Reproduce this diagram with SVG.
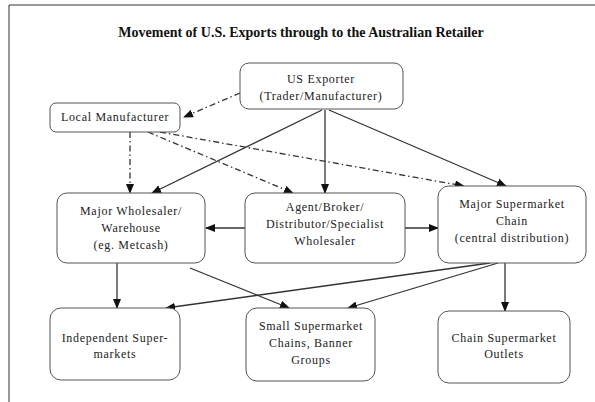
<svg xmlns="http://www.w3.org/2000/svg" width="595" height="402" viewBox="0 0 595 402">
<style>
.box{fill:#fff;stroke:#555;stroke-width:1}
.t{font-family:"Liberation Serif",serif;font-size:12px;letter-spacing:0.7px;fill:#222;text-anchor:middle}
.title{font-family:"Liberation Serif",serif;font-size:14px;font-weight:bold;fill:#111;text-anchor:middle}
.c{stroke:#333;stroke-width:1.3;fill:none;marker-end:url(#ah)}
.d{stroke-dasharray:6 3 1.5 3}
</style>
<defs>
<marker id="ah" markerWidth="10" markerHeight="8" refX="9" refY="4" orient="auto" markerUnits="userSpaceOnUse">
<path d="M0,0 L10,4 L0,8 Z" fill="#111"/>
</marker>
</defs>
<rect x="1" y="1" width="593" height="400" fill="#fff"/>
<path d="M9,402 V5 H595" fill="none" stroke="#333" stroke-width="1"/>
<text class="title" x="301" y="37">Movement of U.S. Exports through to the Australian Retailer</text>
<g id="connectors">
<line class="c d" x1="240" y1="93" x2="184" y2="117"/>
<line class="c" x1="322" y1="110" x2="152" y2="193"/>
<line class="c" x1="325" y1="110" x2="325" y2="193"/>
<line class="c" x1="329" y1="110" x2="506" y2="186"/>
<line class="c d" x1="130" y1="132" x2="130" y2="193"/>
<line class="c d" x1="148" y1="132" x2="293" y2="193"/>
<line class="c d" x1="160" y1="132" x2="464" y2="186"/>
<line class="c" x1="245" y1="228" x2="206" y2="228"/>
<line class="c" x1="405" y1="228" x2="438" y2="228"/>
<line class="c" x1="117" y1="263" x2="117" y2="308"/>
<line class="c" x1="190" y1="268" x2="289" y2="308"/>
<line class="c" x1="490" y1="263" x2="166" y2="308"/>
<line class="c" x1="498" y1="263" x2="348" y2="308"/>
<line class="c" x1="505" y1="263" x2="505" y2="311"/>
</g>
<g id="us-exporter"><rect class="box" x="240" y="63" width="163" height="46" rx="9"/>
<text class="t" x="321" y="83">US Exporter</text><text class="t" x="321" y="100">(Trader/Manufacturer)</text></g>
<g id="local-manufacturer"><rect class="box" x="50" y="103" width="130" height="29" rx="6"/>
<text class="t" x="115" y="121">Local Manufacturer</text></g>
<g id="major-wholesaler"><rect class="box" x="57" y="193" width="148" height="70" rx="10"/>
<text class="t" x="131" y="215">Major Wholesaler/</text><text class="t" x="131" y="232">Warehouse</text><text class="t" x="131" y="249">(eg. Metcash)</text></g>
<g id="agent"><rect class="box" x="245" y="193" width="160" height="70" rx="10"/>
<text class="t" x="325" y="211">Agent/Broker/</text><text class="t" x="325" y="228">Distributor/Specialist</text><text class="t" x="325" y="245">Wholesaler</text></g>
<g id="major-supermarket"><rect class="box" x="438" y="186" width="148" height="77" rx="11"/>
<text class="t" x="512" y="208">Major Supermarket</text><text class="t" x="512" y="225">Chain</text><text class="t" x="512" y="242">(central distribution)</text></g>
<g id="independent"><rect class="box" x="50" y="308" width="130" height="72" rx="11"/>
<text class="t" x="115" y="342">Independent Super-</text><text class="t" x="115" y="358">markets</text></g>
<g id="small-supermarket"><rect class="box" x="246" y="308" width="129" height="73" rx="11"/>
<text class="t" x="311" y="330">Small Supermarket</text><text class="t" x="311" y="347">Chains, Banner</text><text class="t" x="311" y="364">Groups</text></g>
<g id="chain-outlets"><rect class="box" x="438" y="311" width="132" height="72" rx="11"/>
<text class="t" x="504" y="342">Chain Supermarket</text><text class="t" x="504" y="358">Outlets</text></g>
</svg>
